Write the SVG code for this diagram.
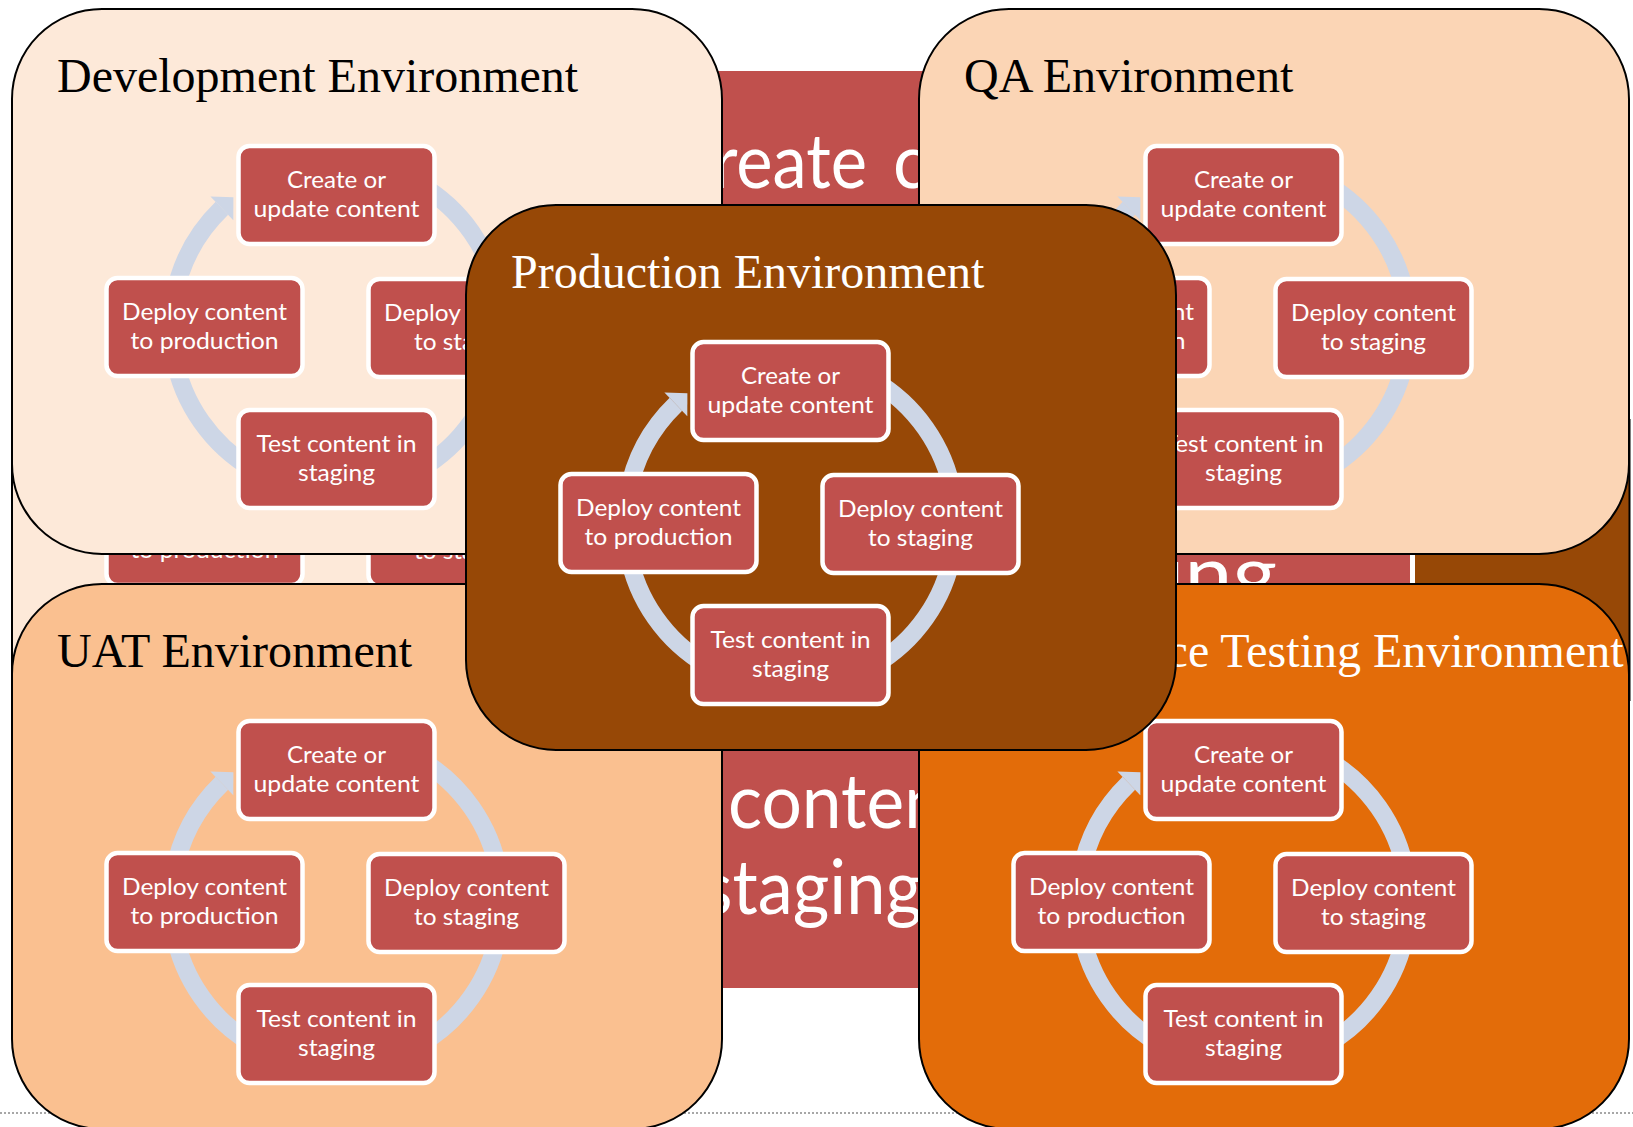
<svg xmlns="http://www.w3.org/2000/svg" width="1633" height="1127" viewBox="0 0 1633 1127">
<defs>
<style>
.env{stroke:#000;stroke-width:2}
.title{font-family:"Liberation Serif","Times New Roman",serif;font-size:48px}
.node rect{fill:#C0504D;stroke:#fff;stroke-width:4.5}
.node text{font-family:Lato,"Liberation Sans",sans-serif;font-size:23px;fill:#fff;text-anchor:middle}
.arc{fill:none;stroke:#CDD6E6;stroke-width:18}
.head{fill:#CDD6E6}
.big{font-family:Lato,"Liberation Sans",sans-serif;font-size:76px;fill:#fff}
</style>
</defs>
<rect x="0" y="0" width="1633" height="1127" fill="#fff"/>
<line x1="0" y1="1113" x2="1633" y2="1113" stroke="#8a8a8a" stroke-width="1.5" stroke-dasharray="2 2"/>

<!-- hidden background layers -->
<g id="background-dev-copy">
<rect x="12" y="300" width="560" height="500" fill="#FDE9D9" stroke="#000" stroke-width="2"/>
<g class="node" id="bg-deploy-production"><rect x="106.5" y="487" width="196" height="98" rx="11"/><text x="204.5" y="557.5" textLength="148" lengthAdjust="spacingAndGlyphs">to production</text></g>
<g class="node" id="bg-deploy-staging"><rect x="368.5" y="488" width="196" height="98" rx="11"/><text x="466.5" y="558.5" textLength="105" lengthAdjust="spacingAndGlyphs">to staging</text></g>
</g>
<rect id="background-brown" x="1300" y="420" width="329.5" height="280" fill="#974806" stroke="#000" stroke-width="2"/>
<g id="background-red">
<rect x="700" y="68.5" width="712.5" height="922" fill="#C0504D" stroke="#fff" stroke-width="5"/>
<text class="big" x="867" y="188" text-anchor="end" textLength="200" lengthAdjust="spacingAndGlyphs">Create</text>
<text class="big" x="893" y="188" textLength="241" lengthAdjust="spacingAndGlyphs">content</text>
<text class="big" x="1277" y="600" text-anchor="end" textLength="268" lengthAdjust="spacingAndGlyphs">staging</text>
<text class="big" x="728" y="828" textLength="241" lengthAdjust="spacingAndGlyphs">content</text>
<text class="big" x="702" y="914" textLength="220" lengthAdjust="spacingAndGlyphs">staging</text>
</g>

<!-- Development -->
<g id="dev-env" transform="translate(12,9)">
<rect class="env" width="710" height="545" rx="90" fill="#FDE9D9"/>
<text class="title" x="45" y="83" fill="#000">Development Environment</text>
<g transform="translate(324.5,318)">
<g id="dev-connectors">
<path class="arc" d="M82.5,-142.9 A165,165 0 0 1 162.5,-28.7"/>
<path class="arc" d="M162.5,28.7 A165,165 0 0 1 82.5,142.9"/>
<path class="arc" d="M-82.5,142.9 A165,165 0 0 1 -162.5,28.7"/>
<path class="arc" d="M-162.5,-28.6 A165,165 0 0 1 -114.6,-118.7"/>
<polygon class="head" points="-126.1,-130.6 -103.1,-129.8 -103.2,-106.8"/>
</g>
<g class="node" id="dev-create"><rect x="-98" y="-181" width="196" height="98" rx="11"/><text x="0" y="-139.5" textLength="99" lengthAdjust="spacingAndGlyphs">Create or</text><text x="0" y="-110.5" textLength="166" lengthAdjust="spacingAndGlyphs">update content</text></g>
<g class="node" id="dev-staging"><rect x="32" y="-48" width="196" height="98" rx="11"/><text x="130" y="-6.5" textLength="165" lengthAdjust="spacingAndGlyphs">Deploy content</text><text x="130" y="22.5" textLength="105" lengthAdjust="spacingAndGlyphs">to staging</text></g>
<g class="node" id="dev-test"><rect x="-98" y="83" width="196" height="98" rx="11"/><text x="0" y="124.5" textLength="160" lengthAdjust="spacingAndGlyphs">Test content in</text><text x="0" y="153.5" textLength="77" lengthAdjust="spacingAndGlyphs">staging</text></g>
<g class="node" id="dev-production"><rect x="-230" y="-49" width="196" height="98" rx="11"/><text x="-132" y="-7.5" textLength="165" lengthAdjust="spacingAndGlyphs">Deploy content</text><text x="-132" y="21.5" textLength="148" lengthAdjust="spacingAndGlyphs">to production</text></g>
</g>
</g>

<!-- QA -->
<g id="qa-env" transform="translate(919,9)">
<rect class="env" width="710" height="545" rx="90" fill="#FBD5B5"/>
<text class="title" x="45" y="83" fill="#000">QA Environment</text>
<g transform="translate(324.5,318)">
<g id="qa-connectors">
<path class="arc" d="M82.5,-142.9 A165,165 0 0 1 162.5,-28.7"/>
<path class="arc" d="M162.5,28.7 A165,165 0 0 1 82.5,142.9"/>
<path class="arc" d="M-82.5,142.9 A165,165 0 0 1 -162.5,28.7"/>
<path class="arc" d="M-162.5,-28.6 A165,165 0 0 1 -114.6,-118.7"/>
<polygon class="head" points="-126.1,-130.6 -103.1,-129.8 -103.2,-106.8"/>
</g>
<g class="node" id="qa-create"><rect x="-98" y="-181" width="196" height="98" rx="11"/><text x="0" y="-139.5" textLength="99" lengthAdjust="spacingAndGlyphs">Create or</text><text x="0" y="-110.5" textLength="166" lengthAdjust="spacingAndGlyphs">update content</text></g>
<g class="node" id="qa-staging"><rect x="32" y="-48" width="196" height="98" rx="11"/><text x="130" y="-6.5" textLength="165" lengthAdjust="spacingAndGlyphs">Deploy content</text><text x="130" y="22.5" textLength="105" lengthAdjust="spacingAndGlyphs">to staging</text></g>
<g class="node" id="qa-test"><rect x="-98" y="83" width="196" height="98" rx="11"/><text x="0" y="124.5" textLength="160" lengthAdjust="spacingAndGlyphs">Test content in</text><text x="0" y="153.5" textLength="77" lengthAdjust="spacingAndGlyphs">staging</text></g>
<g class="node" id="qa-production"><rect x="-230" y="-49" width="196" height="98" rx="11"/><text x="-132" y="-7.5" textLength="165" lengthAdjust="spacingAndGlyphs">Deploy content</text><text x="-132" y="21.5" textLength="148" lengthAdjust="spacingAndGlyphs">to production</text></g>
</g>
</g>

<!-- UAT -->
<g id="uat-env" transform="translate(12,584)">
<rect class="env" width="710" height="545" rx="90" fill="#FAC090"/>
<text class="title" x="45" y="83" fill="#000">UAT Environment</text>
<g transform="translate(324.5,318)">
<g id="uat-connectors">
<path class="arc" d="M82.5,-142.9 A165,165 0 0 1 162.5,-28.7"/>
<path class="arc" d="M162.5,28.7 A165,165 0 0 1 82.5,142.9"/>
<path class="arc" d="M-82.5,142.9 A165,165 0 0 1 -162.5,28.7"/>
<path class="arc" d="M-162.5,-28.6 A165,165 0 0 1 -114.6,-118.7"/>
<polygon class="head" points="-126.1,-130.6 -103.1,-129.8 -103.2,-106.8"/>
</g>
<g class="node" id="uat-create"><rect x="-98" y="-181" width="196" height="98" rx="11"/><text x="0" y="-139.5" textLength="99" lengthAdjust="spacingAndGlyphs">Create or</text><text x="0" y="-110.5" textLength="166" lengthAdjust="spacingAndGlyphs">update content</text></g>
<g class="node" id="uat-staging"><rect x="32" y="-48" width="196" height="98" rx="11"/><text x="130" y="-6.5" textLength="165" lengthAdjust="spacingAndGlyphs">Deploy content</text><text x="130" y="22.5" textLength="105" lengthAdjust="spacingAndGlyphs">to staging</text></g>
<g class="node" id="uat-test"><rect x="-98" y="83" width="196" height="98" rx="11"/><text x="0" y="124.5" textLength="160" lengthAdjust="spacingAndGlyphs">Test content in</text><text x="0" y="153.5" textLength="77" lengthAdjust="spacingAndGlyphs">staging</text></g>
<g class="node" id="uat-production"><rect x="-230" y="-49" width="196" height="98" rx="11"/><text x="-132" y="-7.5" textLength="165" lengthAdjust="spacingAndGlyphs">Deploy content</text><text x="-132" y="21.5" textLength="148" lengthAdjust="spacingAndGlyphs">to production</text></g>
</g>
</g>

<!-- Performance Testing -->
<g id="perf-env" transform="translate(919,584)">
<rect class="env" width="710" height="545" rx="90" fill="#E36C09"/>
<text class="title" x="45" y="83" fill="#fff">Performance Testing Environment</text>
<g transform="translate(324.5,318)">
<g id="perf-connectors">
<path class="arc" d="M82.5,-142.9 A165,165 0 0 1 162.5,-28.7"/>
<path class="arc" d="M162.5,28.7 A165,165 0 0 1 82.5,142.9"/>
<path class="arc" d="M-82.5,142.9 A165,165 0 0 1 -162.5,28.7"/>
<path class="arc" d="M-162.5,-28.6 A165,165 0 0 1 -114.6,-118.7"/>
<polygon class="head" points="-126.1,-130.6 -103.1,-129.8 -103.2,-106.8"/>
</g>
<g class="node" id="perf-create"><rect x="-98" y="-181" width="196" height="98" rx="11"/><text x="0" y="-139.5" textLength="99" lengthAdjust="spacingAndGlyphs">Create or</text><text x="0" y="-110.5" textLength="166" lengthAdjust="spacingAndGlyphs">update content</text></g>
<g class="node" id="perf-staging"><rect x="32" y="-48" width="196" height="98" rx="11"/><text x="130" y="-6.5" textLength="165" lengthAdjust="spacingAndGlyphs">Deploy content</text><text x="130" y="22.5" textLength="105" lengthAdjust="spacingAndGlyphs">to staging</text></g>
<g class="node" id="perf-test"><rect x="-98" y="83" width="196" height="98" rx="11"/><text x="0" y="124.5" textLength="160" lengthAdjust="spacingAndGlyphs">Test content in</text><text x="0" y="153.5" textLength="77" lengthAdjust="spacingAndGlyphs">staging</text></g>
<g class="node" id="perf-production"><rect x="-230" y="-49" width="196" height="98" rx="11"/><text x="-132" y="-7.5" textLength="165" lengthAdjust="spacingAndGlyphs">Deploy content</text><text x="-132" y="21.5" textLength="148" lengthAdjust="spacingAndGlyphs">to production</text></g>
</g>
</g>

<!-- Production -->
<g id="prod-env" transform="translate(466,205)">
<rect class="env" width="710" height="545" rx="90" fill="#974806"/>
<text class="title" x="45" y="83" fill="#fff">Production Environment</text>
<g transform="translate(324.5,318)">
<g id="prod-connectors">
<path class="arc" d="M82.5,-142.9 A165,165 0 0 1 162.5,-28.7"/>
<path class="arc" d="M162.5,28.7 A165,165 0 0 1 82.5,142.9"/>
<path class="arc" d="M-82.5,142.9 A165,165 0 0 1 -162.5,28.7"/>
<path class="arc" d="M-162.5,-28.6 A165,165 0 0 1 -114.6,-118.7"/>
<polygon class="head" points="-126.1,-130.6 -103.1,-129.8 -103.2,-106.8"/>
</g>
<g class="node" id="prod-create"><rect x="-98" y="-181" width="196" height="98" rx="11"/><text x="0" y="-139.5" textLength="99" lengthAdjust="spacingAndGlyphs">Create or</text><text x="0" y="-110.5" textLength="166" lengthAdjust="spacingAndGlyphs">update content</text></g>
<g class="node" id="prod-staging"><rect x="32" y="-48" width="196" height="98" rx="11"/><text x="130" y="-6.5" textLength="165" lengthAdjust="spacingAndGlyphs">Deploy content</text><text x="130" y="22.5" textLength="105" lengthAdjust="spacingAndGlyphs">to staging</text></g>
<g class="node" id="prod-test"><rect x="-98" y="83" width="196" height="98" rx="11"/><text x="0" y="124.5" textLength="160" lengthAdjust="spacingAndGlyphs">Test content in</text><text x="0" y="153.5" textLength="77" lengthAdjust="spacingAndGlyphs">staging</text></g>
<g class="node" id="prod-production"><rect x="-230" y="-49" width="196" height="98" rx="11"/><text x="-132" y="-7.5" textLength="165" lengthAdjust="spacingAndGlyphs">Deploy content</text><text x="-132" y="21.5" textLength="148" lengthAdjust="spacingAndGlyphs">to production</text></g>
</g>
</g>
</svg>
